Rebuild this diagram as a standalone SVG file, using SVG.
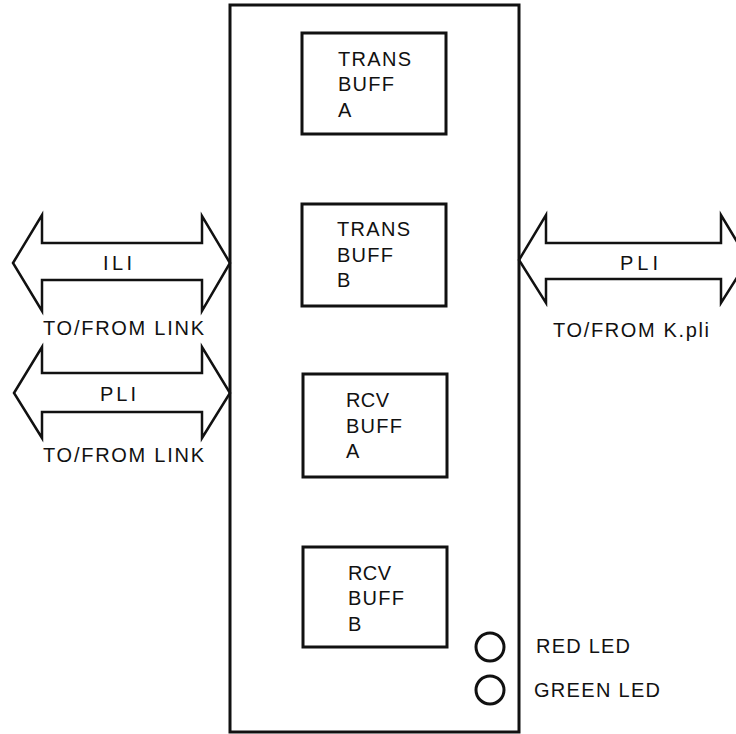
<svg xmlns="http://www.w3.org/2000/svg" width="736" height="734" viewBox="0 0 736 734">
<style>
.box{fill:#fff;stroke:#111;stroke-width:3}
.arrow{fill:none;stroke:#111;stroke-width:2.5;stroke-linejoin:miter}
.led{fill:none;stroke:#111;stroke-width:3}
text{font-family:"Liberation Sans",Arial,sans-serif;font-size:20px;fill:#111}
</style>
<rect width="736" height="734" fill="#fff"/>
<g id="board">
<rect class="box" x="230" y="5" width="289" height="727"/>
</g>
<g id="trans-buff-a">
<rect class="box" x="302" y="33" width="144" height="101"/>
<text x="338" y="66" textLength="73" lengthAdjust="spacing">TRANS</text>
<text x="338" y="91" textLength="56" lengthAdjust="spacing">BUFF</text>
<text x="338" y="117">A</text>
</g>
<g id="trans-buff-b">
<rect class="box" x="302" y="204" width="144" height="102"/>
<text x="337" y="236" textLength="73" lengthAdjust="spacing">TRANS</text>
<text x="337" y="262" textLength="56" lengthAdjust="spacing">BUFF</text>
<text x="337" y="287">B</text>
</g>
<g id="rcv-buff-a">
<rect class="box" x="303" y="374" width="144" height="103"/>
<text x="346" y="407" textLength="43" lengthAdjust="spacing">RCV</text>
<text x="346" y="433" textLength="56" lengthAdjust="spacing">BUFF</text>
<text x="346" y="458">A</text>
</g>
<g id="rcv-buff-b">
<rect class="box" x="303" y="547" width="144" height="100"/>
<text x="348" y="580" textLength="43" lengthAdjust="spacing">RCV</text>
<text x="348" y="605" textLength="56" lengthAdjust="spacing">BUFF</text>
<text x="348" y="631">B</text>
</g>
<g id="red-led">
<circle class="led" cx="490" cy="647" r="14"/>
<text x="536" y="653" textLength="94" lengthAdjust="spacing">RED LED</text>
</g>
<g id="green-led">
<circle class="led" cx="490" cy="690" r="14"/>
<text x="534" y="697" textLength="126" lengthAdjust="spacing">GREEN LED</text>
</g>
<g id="connectors">
<polygon class="arrow" points="13,263 42,215 42,243 202,243 202,216 230,263 202,311 202,280 42,280 42,311"/>
<polygon class="arrow" points="14,393 42,347 42,373 202,373 202,347 230,393 202,438 202,412 42,412 42,438"/>
<polygon class="arrow" points="519,260 546,215 546,243 721,243 721,215 748,260 721,303 721,279 546,279 546,303"/>
</g>
<g id="labels">
<text x="103" y="270" textLength="29" lengthAdjust="spacing">ILI</text>
<text x="43" y="335" textLength="161" lengthAdjust="spacing">TO/FROM LINK</text>
<text x="100" y="401" textLength="36" lengthAdjust="spacing">PLI</text>
<text x="43" y="462" textLength="161" lengthAdjust="spacing">TO/FROM LINK</text>
<text x="620" y="270" textLength="38" lengthAdjust="spacing">PLI</text>
<text x="553" y="337" textLength="156" lengthAdjust="spacing">TO/FROM K.pli</text>
</g>
</svg>
